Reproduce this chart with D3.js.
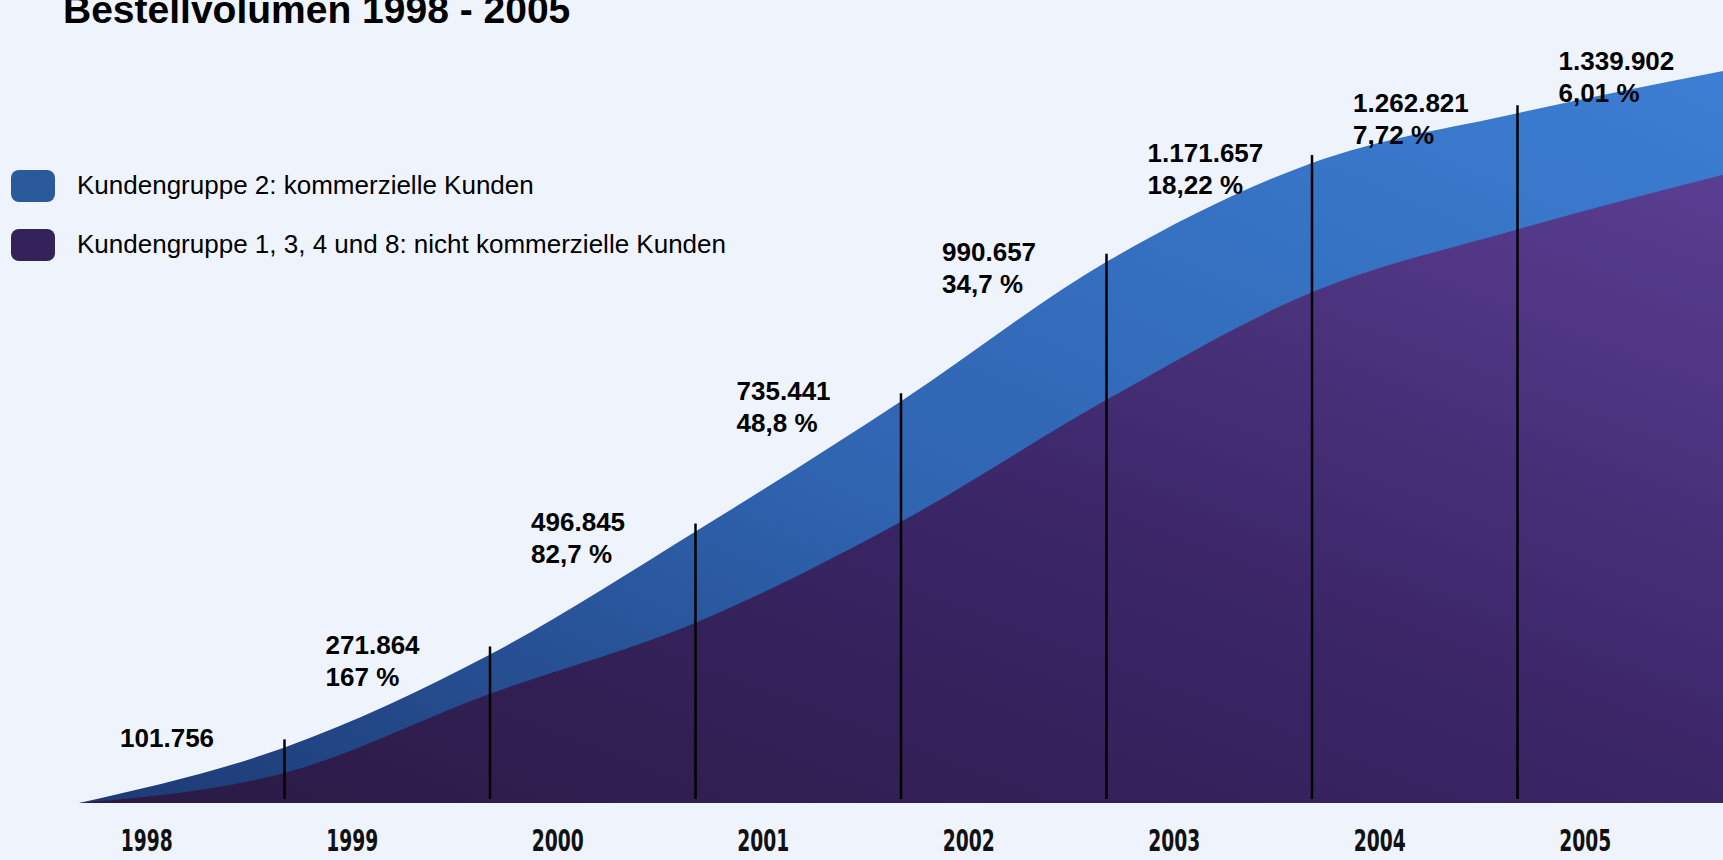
<!DOCTYPE html>
<html>
<head>
<meta charset="utf-8">
<script src="https://cdn.jsdelivr.net/npm/d3@7"></script>
<style>
  html, body { margin: 0; padding: 0; background: #eff3fb; }
  #chart-container { width: 1723px; height: 860px; }
</style>
</head>
<body>
<div id="chart-container"></div>
<script>
// Bestellvolumen per year (end-of-year totals)
const years = ['1998', '1999', '2000', '2001', '2002', '2003', '2004', '2005'];
const totals = [101756, 271864, 496845, 735441, 990657, 1171657, 1262821, 1339902];
// Kundengruppe 1, 3, 4 und 8
const nonCommercial = [55000, 200000, 330000, 515000, 738000, 935000, 1050000, 1150000];
// growth vs previous year
const growth = ['', '167 %', '82,7 %', '48,8 %', '34,7 %', '18,22 %', '7,72 %', '6,01 %'];
const legendLabels = [
    'Kundengruppe 2: kommerzielle Kunden',
    'Kundengruppe 1, 3, 4 und 8: nicht kommerzielle Kunden'
];

document.addEventListener('DOMContentLoaded', function () {
    drawVolumeChart();
});

function drawVolumeChart() {
    const width = 1723;
    const height = 860;

    const svg = d3.select('#chart-container')
        .append('svg')
        .attr('width', width)
        .attr('height', height);

    svg.append('rect')
        .attr('width', width)
        .attr('height', height)
        .attr('fill', '#eff3fb');

    // gradients for the two areas
    const defs = svg.append('defs');
    const blueGrad = defs.append('linearGradient')
        .attr('id', 'blueGrad')
        .attr('x1', 0).attr('y1', 1).attr('x2', 1).attr('y2', 0);
    blueGrad.append('stop').attr('offset', '0%').attr('stop-color', '#1d3a74');
    blueGrad.append('stop').attr('offset', '45%').attr('stop-color', '#2f64b0');
    blueGrad.append('stop').attr('offset', '100%').attr('stop-color', '#3c7ed3');

    const purpleGrad = defs.append('linearGradient')
        .attr('id', 'purpleGrad')
        .attr('x1', 0).attr('y1', 1).attr('x2', 1).attr('y2', 0);
    purpleGrad.append('stop').attr('offset', '0%').attr('stop-color', '#2a1a44');
    purpleGrad.append('stop').attr('offset', '50%').attr('stop-color', '#3a2566');
    purpleGrad.append('stop').attr('offset', '100%').attr('stop-color', '#5a3e92');

    // scales: index 0 = start of 1998, index i = end of year i
    const x = d3.scaleLinear()
        .domain([0, years.length])
        .range([79, width]);

    const y = d3.scaleLinear()
        .domain([0, 1340000])
        .range([803, 71]);

    const points = [{ i: 0, total: 0, non: 0 }].concat(
        totals.map((t, k) => ({ i: k + 1, total: t, non: nonCommercial[k] }))
    );

    const totalArea = d3.area()
        .x(d => x(d.i))
        .y0(y(0))
        .y1(d => y(d.total))
        .curve(d3.curveMonotoneX);

    const nonArea = d3.area()
        .x(d => x(d.i))
        .y0(y(0))
        .y1(d => y(d.non))
        .curve(d3.curveMonotoneX);

    svg.append('path')
        .datum(points)
        .attr('d', totalArea)
        .attr('fill', 'url(#blueGrad)');

    svg.append('path')
        .datum(points)
        .attr('d', nonArea)
        .attr('fill', 'url(#purpleGrad)');

    // year boundary lines
    svg.selectAll('line.divider')
        .data(points.slice(1, years.length))
        .enter().append('line')
        .attr('class', 'divider')
        .attr('x1', d => x(d.i))
        .attr('x2', d => x(d.i))
        .attr('y1', y(0) - 4)
        .attr('y2', d => y(d.total) - 8)
        .attr('stroke', '#000')
        .attr('stroke-width', 2.5);

    // value labels
    const deLocale = d3.formatLocale({ decimal: ',', thousands: '.', grouping: [3], currency: ['', '€'] });
    const fmt = deLocale.format(',d');

    const labels = svg.selectAll('g.value-label')
        .data(points.slice(1))
        .enter().append('g')
        .attr('class', 'value-label')
        .attr('transform', d => `translate(${x(d.i - 0.8)},${y(d.total) - 10})`)
        .style('font-family', '"Liberation Sans", Arial, sans-serif')
        .style('font-weight', 'bold')
        .style('font-size', '26px')
        .attr('fill', '#000');

    labels.append('text')
        .attr('dy', '0.35em')
        .text(d => fmt(d.total));

    labels.append('text')
        .attr('y', 32)
        .attr('dy', '0.35em')
        .text(d => growth[d.i - 1]);

    // year labels
    svg.selectAll('text.year')
        .data(years)
        .enter().append('text')
        .attr('class', 'year')
        .attr('x', (d, i) => x(i + 0.33) - 26)
        .attr('y', 851)
        .attr('textLength', 52)
        .attr('lengthAdjust', 'spacingAndGlyphs')
        .style('font-family', '"DejaVu Sans", sans-serif')
        .style('font-weight', 'bold')
        .style('font-size', '30px')
        .attr('fill', '#111')
        .text(d => d);

    // legend
    const legendColors = ['#2a5a9c', '#33235a'];
    const legend = svg.selectAll('g.legend')
        .data(legendLabels)
        .enter().append('g')
        .attr('class', 'legend')
        .attr('transform', (d, i) => `translate(11,${170 + i * 59})`);

    legend.append('rect')
        .attr('width', 44)
        .attr('height', 32)
        .attr('rx', 8)
        .attr('fill', (d, i) => legendColors[i]);

    legend.append('text')
        .attr('x', 66)
        .attr('y', 15)
        .attr('dy', '0.35em')
        .style('font-family', '"Liberation Sans", Arial, sans-serif')
        .style('font-size', '26px')
        .attr('fill', '#000')
        .text(d => d);

    // chart title (cut at the top like the original)
    svg.append('text')
        .attr('x', 63)
        .attr('y', 23)
        .style('font-family', '"Liberation Sans", Arial, sans-serif')
        .style('font-weight', 'bold')
        .style('font-size', '39px')
        .attr('fill', '#000')
        .text('Bestellvolumen 1998 - 2005');
}
</script>
</body>
</html>
